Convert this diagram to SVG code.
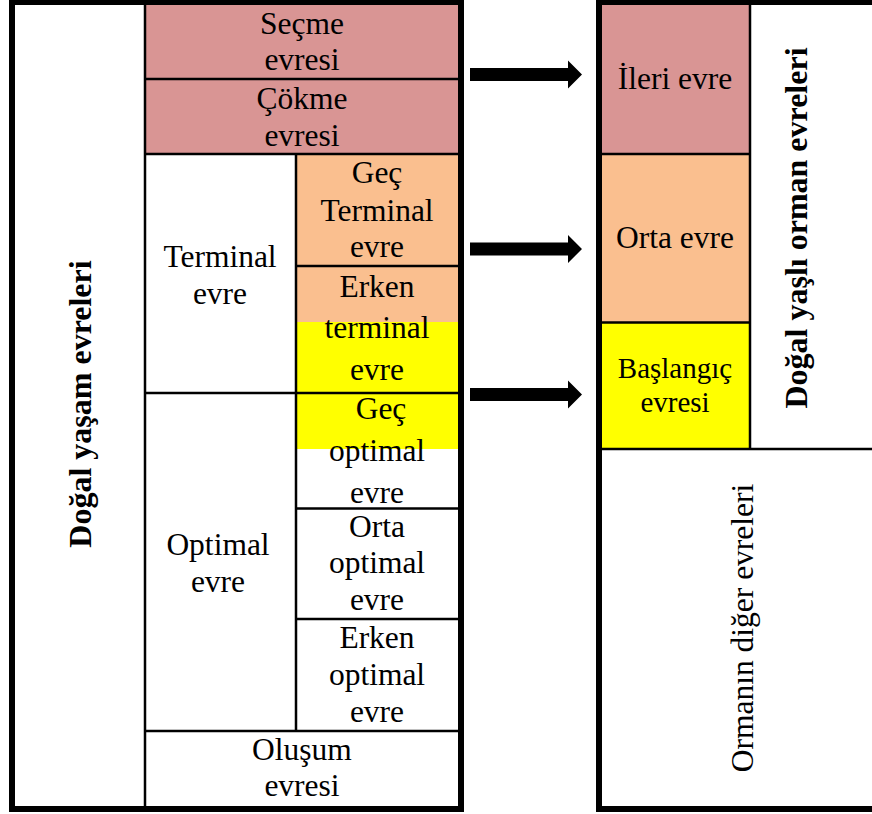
<svg xmlns="http://www.w3.org/2000/svg" width="872" height="814" viewBox="0 0 872 814">
  <style>
    text { font-family: "Liberation Serif", "Times New Roman", serif; fill: #000; text-anchor: middle; }
    .t { font-size: 31.5px; }
    .ts { font-size: 29px; }
    .bold { font-size: 32px; font-weight: bold; }
    .frame { fill: none; stroke: #000; stroke-width: 6; }
    .rule { stroke: #000; stroke-width: 2.5; fill: none; }
    .pink { fill: #D99594; }
    .peach { fill: #FABF8F; }
    .yellow { fill: #FFFF00; }
  </style>
  <defs>
    <path id="arrow" d="M0,-6.5 H98 V-14 L112,0 L98,14 V6.5 H0 Z" fill="#000"/>
  </defs>

  <rect width="872" height="814" fill="#fff"/>

  <!-- colour bands, left table -->
  <g id="fills-left">
    <rect class="pink" x="145" y="4" width="314" height="150"/>
    <rect class="peach" x="296" y="154" width="163" height="168"/>
    <rect class="yellow" x="296" y="322" width="163" height="127"/>
  </g>
  <!-- colour bands, right table -->
  <g id="fills-right">
    <rect class="pink" x="601" y="4" width="149" height="150"/>
    <rect class="peach" x="601" y="154" width="149" height="168.5"/>
    <rect class="yellow" x="601" y="322.5" width="149" height="126.5"/>
  </g>

  <!-- grid lines, left table -->
  <g id="grid-left">
    <line class="rule" x1="145" y1="2" x2="145" y2="809"/>
    <line class="rule" x1="145" y1="79" x2="461" y2="79"/>
    <line class="rule" x1="145" y1="154" x2="461" y2="154"/>
    <line class="rule" x1="296" y1="154" x2="296" y2="731"/>
    <line class="rule" x1="296" y1="266" x2="461" y2="266"/>
    <line class="rule" x1="145" y1="393" x2="461" y2="393"/>
    <line class="rule" x1="296" y1="508.5" x2="461" y2="508.5"/>
    <line class="rule" x1="296" y1="619" x2="461" y2="619"/>
    <line class="rule" x1="145" y1="731" x2="461" y2="731"/>
    <rect class="frame" x="12" y="2" width="449" height="807"/>
  </g>

  <!-- grid lines, right table -->
  <g id="grid-right">
    <line class="rule" x1="599" y1="154" x2="750" y2="154"/>
    <line class="rule" x1="599" y1="322.5" x2="750" y2="322.5"/>
    <line class="rule" x1="750" y1="2" x2="750" y2="449"/>
    <line class="rule" x1="599" y1="449" x2="880" y2="449"/>
    <rect class="frame" x="599" y="2" width="290" height="807"/>
  </g>

  <!-- left table cells -->
  <g id="dogal-yasam-evreleri">
    <text class="bold" transform="translate(91,404) rotate(-90)">Doğal yaşam evreleri</text>
  </g>
  <g id="secme-evresi">
    <text class="t" x="302" y="34">Seçme</text>
    <text class="t" x="302" y="70">evresi</text>
  </g>
  <g id="cokme-evresi">
    <text class="t" x="302" y="109">Çökme</text>
    <text class="t" x="302" y="146">evresi</text>
  </g>
  <g id="terminal-evre">
    <text class="t" x="220" y="267">Terminal</text>
    <text class="t" x="220" y="304">evre</text>
  </g>
  <g id="gec-terminal-evre">
    <text class="t" x="377" y="183">Geç</text>
    <text class="t" x="377" y="221">Terminal</text>
    <text class="t" x="377" y="257">evre</text>
  </g>
  <g id="erken-terminal-evre">
    <text class="t" x="377" y="297">Erken</text>
    <text class="t" x="377" y="338">terminal</text>
    <text class="t" x="377" y="380">evre</text>
  </g>
  <g id="optimal-evre">
    <text class="t" x="218" y="555">Optimal</text>
    <text class="t" x="218" y="592">evre</text>
  </g>
  <g id="gec-optimal-evre">
    <text class="t" x="381" y="419">Geç</text>
    <text class="t" x="377" y="461">optimal</text>
    <text class="t" x="377" y="503">evre</text>
  </g>
  <g id="orta-optimal-evre">
    <text class="t" x="377" y="537">Orta</text>
    <text class="t" x="377" y="573">optimal</text>
    <text class="t" x="377" y="610">evre</text>
  </g>
  <g id="erken-optimal-evre">
    <text class="t" x="377" y="648">Erken</text>
    <text class="t" x="377" y="685">optimal</text>
    <text class="t" x="377" y="722">evre</text>
  </g>
  <g id="olusum-evresi">
    <text class="t" x="302" y="760">Oluşum</text>
    <text class="t" x="302" y="796">evresi</text>
  </g>

  <!-- right table cells -->
  <g id="ileri-evre">
    <text class="t" x="675" y="89">İleri evre</text>
  </g>
  <g id="orta-evre">
    <text class="t" x="675" y="248">Orta evre</text>
  </g>
  <g id="baslangic-evresi">
    <text class="ts" x="675" y="378">Başlangıç</text>
    <text class="ts" x="675" y="412">evresi</text>
  </g>
  <g id="dogal-yasli-orman-evreleri">
    <text class="bold" transform="translate(807,228) rotate(-90)">Doğal yaşlı orman evreleri</text>
  </g>
  <g id="ormanin-diger-evreleri">
    <text class="t" transform="translate(753,628) rotate(-90)">Ormanın diğer evreleri</text>
  </g>

  <!-- arrows linking the two tables -->
  <g id="connectors">
    <use href="#arrow" x="470" y="74.5"/>
    <use href="#arrow" x="470" y="249"/>
    <use href="#arrow" x="470" y="394.5"/>
  </g>
</svg>
